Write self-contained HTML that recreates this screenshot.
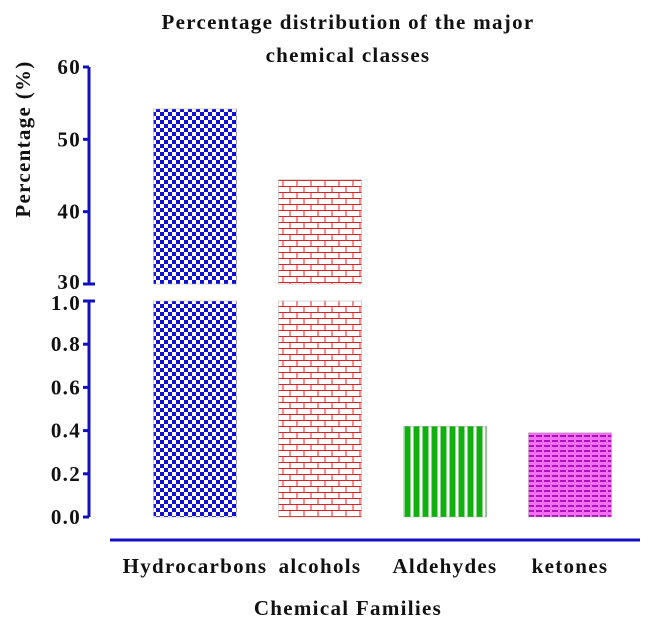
<!DOCTYPE html>
<html><head><meta charset="utf-8"><style>
body{margin:0;background:#fff;}
svg{display:block;font-family:"Liberation Serif",serif;font-weight:bold;letter-spacing:1.3px;}
</style></head><body>
<svg id="chart" width="664" height="628" viewBox="0 0 664 628">
<defs>
<pattern id="pCheck" width="8" height="8" patternUnits="userSpaceOnUse">
<rect width="8" height="8" fill="#fff"/><rect width="4" height="4" fill="#1010d8"/><rect x="4" y="4" width="4" height="4" fill="#1010d8"/>
</pattern>
<pattern id="pBrick" width="14" height="12" patternUnits="userSpaceOnUse">
<rect width="14" height="12" fill="#fff"/>
<path d="M0 0.5H14M0 6.5H14M3 0V6M10 6V12" stroke="#e02020" stroke-width="1"/>
</pattern>
<pattern id="pStripe" width="9" height="10" patternUnits="userSpaceOnUse">
<rect width="9" height="10" fill="#10b010"/><rect x="5.5" width="3" height="10" fill="#fff"/>
</pattern>
<pattern id="pMag" width="8" height="5" patternUnits="userSpaceOnUse">
<rect width="8" height="5" fill="#f070f0"/>
<rect x="0" y="0" width="6" height="2" fill="#b010c0"/>
</pattern>
</defs>
<g id="title" font-size="21" text-anchor="middle" fill="#111">
<text x="348" y="29">Percentage distribution of the major</text>
<text x="348" y="62">chemical classes</text>
</g>
<text transform="translate(30,139) rotate(-90)" font-size="21" text-anchor="middle" fill="#111">Percentage  (%)</text>
<text x="348" y="615" font-size="21" text-anchor="middle" fill="#111">Chemical Families</text>
<g id="axes"></g>
<g id="bars"></g>
</svg>
<script>
const categories=["Hydrocarbons","alcohols","Aldehydes","ketones"];
const values=[54.2,44.4,0.42,0.39];
const upperTicks=[30,40,50,60];
const lowerTicks=[0.0,0.2,0.4,0.6,0.8,1.0];
const upperTickLabels=["30","40","50","60"];
const lowerTickLabels=["0.0","0.2","0.4","0.6","0.8","1.0"];
const patterns=["pCheck","pBrick","pStripe","pMag"];
const NS="http://www.w3.org/2000/svg";
const upTop=67,upBot=284,lowTop=301,lowBot=517;
function yUp(v){return upBot-(v-30)/(60-30)*(upBot-upTop);}
function yLow(v){return lowBot-v/1*(lowBot-lowTop);}
function xC(i){return 195+i*125;}
const barW=83,axX=89;
function mk(tag,attrs,parent){const e=document.createElementNS(NS,tag);for(const k in attrs)e.setAttribute(k,attrs[k]);parent.appendChild(e);return e;}
const axes=document.getElementById('axes'),bars=document.getElementById('bars');
let l=mk('line',{x1:axX,x2:axX,y1:upTop,y2:upBot,stroke:'#1010c0','stroke-width':3},axes);


l=mk('line',{x1:axX,x2:axX,y1:lowTop,y2:lowBot,stroke:'#1010c0','stroke-width':3},axes);


l=mk('line',{x1:110,x2:640,y1:540,y2:540,stroke:'#1010c0','stroke-width':3},axes);


upperTicks.forEach((v,i)=>{const y=yUp(v);
 let t=mk('line',{x1:axX-6,x2:axX,y1:y,y2:y,stroke:'#1010c0','stroke-width':3},axes);
 
 
 let tx=mk('text',{x:81,y:y+7+(v===30?-2:0),'font-size':21,'text-anchor':'end',fill:'#111'},axes);tx.textContent=upperTickLabels[i];
 
 });
lowerTicks.forEach((v,i)=>{const y=yLow(v);
 let t=mk('line',{x1:axX-6,x2:axX+(v===1?6:0),y1:y,y2:y,stroke:'#1010c0','stroke-width':3},axes);
 
 
 let tx=mk('text',{x:81,y:y+7+(v===1?2:0),'font-size':21,'text-anchor':'end',fill:'#111'},axes);tx.textContent=lowerTickLabels[i];
 
 });
mk('line',{x1:axX,x2:axX+6,y1:upBot,y2:upBot,stroke:'#1010c0','stroke-width':3},axes);
categories.forEach((c,i)=>{const x=xC(i)-barW/2,v=values[i];
 if(v>1){
  const r1=mk('rect',{x:x,y:yUp(v),width:barW,height:upBot-yUp(v),fill:'url(#'+patterns[i]+')',stroke:'#aaa','stroke-width':0.5},bars);
  
  
  const r2=mk('rect',{x:x,y:lowTop,width:barW,height:lowBot-lowTop,fill:'url(#'+patterns[i]+')',stroke:'#aaa','stroke-width':0.5},bars);
  
  
 } else {
  const r=mk('rect',{x:x,y:yLow(v),width:barW,height:lowBot-yLow(v),fill:'url(#'+patterns[i]+')',stroke:'#aaa','stroke-width':0.5},bars);
  
  
 }
 const t=mk('text',{x:xC(i),y:573,'font-size':21,'text-anchor':'middle',fill:'#111'},axes);t.textContent=c;
 
 
});
</script>
</body></html>
